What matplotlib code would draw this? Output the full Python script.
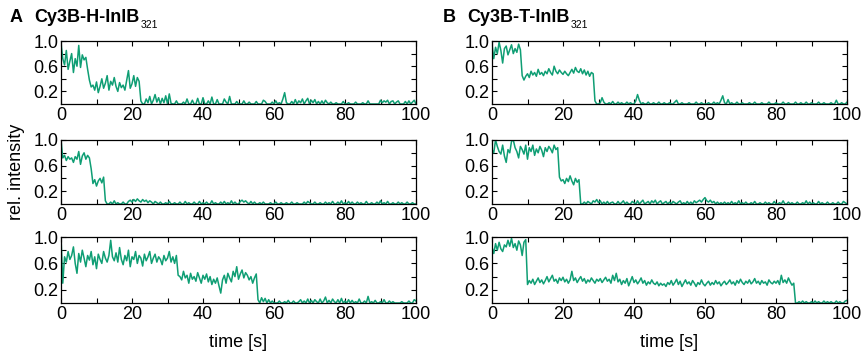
import numpy as np
import matplotlib
matplotlib.use("Agg")
import matplotlib.pyplot as plt

plt.rcParams['font.family'] = ['Liberation Sans', 'DejaVu Sans']

# time grid (s), 0.5 s sampling
time = np.arange(0, 100.5, 0.5)

panel_titles = ["Cy3B-H-InlB", "Cy3B-T-InlB"]
panel_letters = ["A", "B"]
subscript = "321"

trace_A1 = [0.97, 0.72, 0.62, 0.85, 0.55, 0.68, 0.80, 0.50, 0.72, 0.60, 0.93, 0.58, 0.78, 0.70, 0.74,
            0.55, 0.38, 0.27,
            0.30, 0.22, 0.35, 0.18, 0.28, 0.40, 0.25, 0.33, 0.45, 0.22, 0.36, 0.30, 0.42, 0.28, 0.20,
            0.34, 0.26, 0.30, 0.22, 0.38, 0.53, 0.25, 0.32, 0.45, 0.28, 0.42, 0.36,
            0.05, 0.00,
            0.00, 0.08, 0.02, 0.12, 0.00, 0.06, 0.15, 0.03, 0.10, 0.00,
            0.09, 0.02, 0.13, 0.00, 0.16, 0.01, 0.00, 0.00, 0.05, 0.00,
            0.00, 0.00, 0.03, 0.00, 0.08, 0.00, 0.00, 0.06, 0.00, 0.00,
            0.09, 0.00, 0.00, 0.10, 0.00, 0.00, 0.05, 0.00, 0.11, 0.00,
            0.00, 0.07, 0.00, 0.00, 0.00, 0.08, 0.03, 0.00, 0.12, 0.00,
            0.00, 0.00, 0.04, 0.00, 0.00, 0.00, 0.05, 0.00, 0.00, 0.03,
            0.00, 0.00, 0.00, 0.04, 0.00, 0.00, 0.00, 0.06, 0.04, 0.00,
            0.00, 0.00, 0.03, 0.00, 0.05, 0.00, 0.02, 0.00, 0.08, 0.18,
            0.02, 0.00, 0.00, 0.04, 0.00, 0.07, 0.00, 0.05, 0.02, 0.08,
            0.00, 0.05, 0.09, 0.00, 0.06, 0.02, 0.07, 0.00, 0.04, 0.00,
            0.05, 0.00, 0.06, 0.02, 0.00, 0.03, 0.00, 0.00, 0.02, 0.00,
            0.00, 0.00, 0.04, 0.00, 0.00, 0.02, 0.00, 0.00, 0.00, 0.03,
            0.00, 0.00, 0.00, 0.02, 0.00, 0.00, 0.05, 0.00, 0.00, 0.00,
            0.00, 0.00, 0.00, 0.06, 0.02, 0.05, 0.03, 0.06, 0.00, 0.04,
            0.05, 0.00, 0.03, 0.05, 0.00, 0.00, 0.00, 0.04, 0.00, 0.05,
            0.00, 0.03, 0.06, 0.00]

trace_A2 = [1.00, 0.72, 0.76, 0.68, 0.74, 0.70, 0.72, 0.65, 0.74, 0.70, 0.82, 0.62, 0.75, 0.80, 0.70, 0.76, 0.72,
            0.55, 0.32, 0.38, 0.28, 0.36, 0.40, 0.33, 0.42, 0.05, 0.00,
            0.00, 0.03, 0.00, 0.05, 0.00, 0.02, 0.00, 0.00, 0.03, 0.00,
            0.00, 0.04, 0.06, 0.03, 0.07, 0.04, 0.08, 0.05, 0.03, 0.07,
            0.04, 0.06, 0.02, 0.05, 0.03, 0.00, 0.04, 0.02, 0.00, 0.03,
            0.00, 0.00, 0.02, 0.00, 0.04, 0.00, 0.00, 0.02, 0.00, 0.00,
            0.03, 0.00, 0.00, 0.04, 0.00, 0.02, 0.00, 0.00, 0.03, 0.00,
            0.00, 0.04, 0.00, 0.02, 0.00, 0.03, 0.00, 0.00, 0.05, 0.00,
            0.02, 0.00, 0.00, 0.03, 0.00, 0.04, 0.00, 0.02, 0.00, 0.05,
            0.00, 0.03, 0.00, 0.00, 0.04, 0.06, 0.03, 0.05, 0.02, 0.00,
            0.04, 0.00, 0.03, 0.00, 0.00, 0.02, 0.00, 0.03, 0.00, 0.00,
            0.00, 0.02, 0.00, 0.00, 0.03, 0.00, 0.00, 0.02, 0.00, 0.00,
            0.02, 0.00, 0.00, 0.03, 0.00, 0.00, 0.02, 0.00, 0.00, 0.00,
            0.03, 0.00, 0.04, 0.02, 0.00, 0.00, 0.03, 0.00, 0.00, 0.02,
            0.00, 0.00, 0.03, 0.00, 0.02, 0.00, 0.04, 0.00, 0.00, 0.03,
            0.00, 0.05, 0.00, 0.02, 0.00, 0.04, 0.00, 0.03, 0.00, 0.00,
            0.03, 0.00, 0.02, 0.00, 0.00, 0.04, 0.00, 0.00, 0.02, 0.00,
            0.00, 0.03, 0.00, 0.05, 0.00, 0.02, 0.00, 0.04, 0.00, 0.00,
            0.02, 0.00, 0.00, 0.03, 0.00, 0.02, 0.00, 0.00, 0.03, 0.00,
            0.00, 0.02, 0.00, 0.00]

trace_A3 = [1.00, 0.30, 0.70, 0.62, 0.78, 0.66, 0.72, 0.85, 0.60, 0.45, 0.75,
            0.62, 0.80, 0.68, 0.55, 0.72, 0.65, 0.78, 0.58, 0.70, 0.52,
            0.74, 0.66, 0.60, 0.78, 0.68, 0.62, 0.72, 0.95, 0.70, 0.64,
            0.76, 0.62, 0.84, 0.66, 0.58, 0.72, 0.64, 0.80, 0.55, 0.70,
            0.66, 0.78, 0.60, 0.72, 0.68, 0.56, 0.74, 0.64, 0.70, 0.78,
            0.60, 0.68, 0.74, 0.62, 0.70, 0.66, 0.58, 0.72, 0.64, 0.68,
            0.78, 0.62, 0.70, 0.60, 0.72, 0.42,
            0.40, 0.35, 0.48, 0.38, 0.42, 0.30, 0.45, 0.36, 0.40, 0.33,
            0.46, 0.38, 0.30, 0.42, 0.36, 0.44, 0.32, 0.40, 0.28, 0.36,
            0.30, 0.38, 0.26, 0.15, 0.35, 0.42, 0.30, 0.45, 0.38, 0.32,
            0.48, 0.40, 0.55, 0.36, 0.44, 0.50, 0.38, 0.46, 0.42, 0.35,
            0.40, 0.30, 0.38, 0.44, 0.05,
            0.00, 0.08, 0.02, 0.07, 0.00, 0.05, 0.00, 0.03, 0.00,
            0.00, 0.00, 0.03, 0.00, 0.00, 0.02, 0.00, 0.04, 0.00, 0.00,
            0.03, 0.00, 0.00, 0.02, 0.05, 0.00, 0.03, 0.00, 0.06, 0.00,
            0.04, 0.00, 0.05, 0.02, 0.00, 0.06, 0.00, 0.03, 0.09, 0.00,
            0.04, 0.00, 0.06, 0.02, 0.00, 0.05, 0.00, 0.07, 0.00, 0.03,
            0.00, 0.05, 0.00, 0.04, 0.00, 0.02, 0.00, 0.06, 0.00, 0.00,
            0.03, 0.00, 0.10, 0.00, 0.02, 0.00, 0.04, 0.00, 0.00, 0.02,
            0.00, 0.05, 0.00, 0.00, 0.03, 0.00, 0.02, 0.00, 0.00, 0.00,
            0.00, 0.02, 0.00, 0.00, 0.00, 0.03, 0.00, 0.00, 0.05, 0.03]

trace_B1 = [0.95, 0.72, 0.90, 0.80, 0.98, 0.85, 0.65, 0.88, 0.92, 0.78, 0.86, 0.94, 0.80, 0.88, 0.82, 0.95, 0.86,
            0.45, 0.38, 0.44,
            0.48, 0.42, 0.52, 0.46, 0.50, 0.44, 0.55, 0.47, 0.50, 0.45, 0.52,
            0.48, 0.56, 0.50, 0.46, 0.60, 0.52, 0.48, 0.54, 0.50, 0.47,
            0.52, 0.48, 0.45, 0.50, 0.55, 0.49, 0.58, 0.52, 0.50, 0.56,
            0.48, 0.54, 0.46, 0.52, 0.44, 0.50, 0.48,
            0.05, 0.00,
            0.00, 0.02, 0.10, 0.03, 0.00, 0.00, 0.02, 0.00, 0.04, 0.00,
            0.00, 0.03, 0.00, 0.02, 0.00, 0.00, 0.03, 0.00, 0.02, 0.00,
            0.00, 0.05, 0.15, 0.06, 0.00, 0.02, 0.00, 0.00, 0.03, 0.00,
            0.00, 0.02, 0.00, 0.00, 0.03, 0.00, 0.00, 0.02, 0.00, 0.00,
            0.02, 0.00, 0.00, 0.03, 0.06, 0.00, 0.00, 0.02, 0.00, 0.00,
            0.00, 0.02, 0.00, 0.00, 0.00, 0.03, 0.00, 0.00, 0.02, 0.00,
            0.00, 0.00, 0.02, 0.00, 0.00, 0.03, 0.00, 0.02, 0.00, 0.06,
            0.13, 0.02, 0.00, 0.07, 0.00, 0.02, 0.00, 0.00, 0.03, 0.00,
            0.00, 0.02, 0.00, 0.00, 0.00, 0.02, 0.00, 0.00, 0.03, 0.00,
            0.00, 0.00, 0.02, 0.00, 0.00, 0.00, 0.03, 0.00, 0.00, 0.00,
            0.02, 0.00, 0.00, 0.00, 0.03, 0.00, 0.00, 0.02, 0.00, 0.00,
            0.00, 0.03, 0.00, 0.00, 0.02, 0.00, 0.00, 0.03, 0.00, 0.00,
            0.02, 0.00, 0.00, 0.00, 0.03, 0.00, 0.00, 0.02, 0.00, 0.00,
            0.00, 0.02, 0.00, 0.00, 0.06, 0.00, 0.00, 0.02, 0.00, 0.00,
            0.03]

trace_B2 = [0.85, 0.80, 1.00, 0.90, 0.82, 0.78, 0.92, 0.75, 0.65, 0.85, 0.80,
            0.98, 1.00, 0.88, 0.82, 0.72, 0.90, 0.85, 0.78, 0.92, 0.70,
            0.88, 0.82, 0.92, 0.76, 0.86, 0.80, 0.90, 0.84, 0.74, 0.88,
            0.82, 0.90, 0.86, 0.80, 0.92, 0.85, 0.88,
            0.42, 0.36,
            0.38, 0.32, 0.40, 0.35, 0.44, 0.36, 0.30, 0.40, 0.34, 0.38,
            0.00,
            0.00, 0.03, 0.00, 0.04, 0.02, 0.00, 0.05, 0.03, 0.07, 0.02,
            0.05, 0.00, 0.03, 0.00, 0.04, 0.00, 0.02, 0.03, 0.00, 0.00,
            0.04, 0.00, 0.02, 0.05, 0.00, 0.03, 0.00, 0.00, 0.04, 0.02,
            0.00, 0.05, 0.00, 0.03, 0.06, 0.00, 0.02, 0.04, 0.00, 0.05,
            0.02, 0.06, 0.00, 0.03, 0.05, 0.00, 0.02, 0.04, 0.00, 0.03,
            0.00, 0.04, 0.02, 0.00, 0.03, 0.05, 0.00, 0.02, 0.00, 0.04,
            0.00, 0.03, 0.00, 0.05, 0.02, 0.04, 0.06, 0.03, 0.07, 0.10,
            0.05, 0.03, 0.06, 0.02, 0.04, 0.00, 0.03, 0.00, 0.02, 0.00,
            0.03, 0.00, 0.02, 0.00, 0.04, 0.00, 0.02, 0.00, 0.05, 0.00,
            0.02, 0.00, 0.03, 0.00, 0.00, 0.02, 0.00, 0.04, 0.00, 0.00,
            0.02, 0.00, 0.00, 0.03, 0.00, 0.02, 0.00, 0.00, 0.04, 0.00,
            0.00, 0.02, 0.00, 0.05, 0.00, 0.00, 0.03, 0.00, 0.02, 0.00,
            0.00, 0.03, 0.00, 0.00, 0.02, 0.00, 0.05, 0.00, 0.03, 0.00,
            0.02, 0.00, 0.00, 0.04, 0.00, 0.02, 0.00, 0.00, 0.03, 0.00,
            0.00, 0.02, 0.00, 0.00, 0.03, 0.00, 0.00, 0.04, 0.02, 0.00]

trace_B3 = [0.85, 0.75, 0.90, 0.80, 0.92, 0.82, 0.78, 0.88, 0.85, 0.95,
            0.86, 0.98, 0.84, 0.90, 0.80, 0.94, 0.88, 0.72, 0.92, 0.96,
            0.28,
            0.34, 0.30, 0.36, 0.28, 0.33, 0.38, 0.31, 0.35, 0.29, 0.34,
            0.40, 0.32, 0.37, 0.42, 0.33, 0.36, 0.30, 0.38, 0.34, 0.39,
            0.32, 0.36, 0.30, 0.35, 0.48, 0.34, 0.38, 0.31, 0.36, 0.40,
            0.33, 0.37, 0.30, 0.35, 0.32, 0.38, 0.34, 0.30, 0.36, 0.33,
            0.37, 0.31, 0.35, 0.39, 0.33, 0.36, 0.30, 0.42, 0.34, 0.45,
            0.32, 0.36, 0.28, 0.34, 0.30, 0.37, 0.26, 0.33, 0.40, 0.31,
            0.35, 0.29, 0.33, 0.38, 0.30, 0.34, 0.27, 0.32, 0.29, 0.35,
            0.30, 0.28, 0.32, 0.26, 0.30, 0.27, 0.29, 0.25, 0.31, 0.28,
            0.34, 0.27, 0.31, 0.36, 0.28, 0.33, 0.25, 0.30, 0.35, 0.29,
            0.32, 0.27, 0.34, 0.30, 0.25, 0.31, 0.28, 0.35, 0.29, 0.26,
            0.30, 0.33, 0.27, 0.31, 0.28, 0.34, 0.29, 0.32, 0.26, 0.30,
            0.33, 0.28, 0.31, 0.35, 0.29, 0.32, 0.27, 0.34, 0.30, 0.36,
            0.31, 0.28, 0.33, 0.30, 0.35, 0.29, 0.32, 0.37, 0.30, 0.33,
            0.28, 0.34, 0.30, 0.32, 0.27, 0.35, 0.31, 0.29, 0.33, 0.30,
            0.34, 0.28, 0.42, 0.31, 0.35, 0.30, 0.38, 0.32, 0.27, 0.30,
            0.00, 0.00, 0.02, 0.00, 0.03, 0.00, 0.02, 0.00, 0.00, 0.02,
            0.00, 0.03, 0.00, 0.02, 0.00, 0.00, 0.03, 0.00, 0.02, 0.00,
            0.02, 0.00, 0.00, 0.03, 0.00, 0.02, 0.00, 0.00, 0.03, 0.04]

traces = [[trace_A1, trace_A2, trace_A3], [trace_B1, trace_B2, trace_B3]]

xticks = list(range(0, 101, 10))
xticklabels = [str(v) if v % 20 == 0 else "" for v in xticks]
yticks = [0.2, 0.4, 0.6, 0.8, 1.0]
yticklabels = ["0.2", "", "0.6", "", "1.0"]

color = "#0f9e74"
W, H = 864, 358
fig = plt.figure(figsize=(W / 100, H / 100), dpi=100)

col_left = [61, 492]
ax_w = 355
rows = [(41, 104), (140, 204), (237, 303)]

for c in range(2):
    for r in range(3):
        top, bot = rows[r]
        ax = fig.add_axes([col_left[c] / W, 1 - bot / H, ax_w / W, (bot - top) / H])
        ax.plot(time, traces[c][r], color=color, lw=1.1)
        ax.set_xlim(0, 100)
        ax.set_ylim(0.0, 1.0)
        ax.set_xticks(xticks)
        ax.set_xticklabels(xticklabels)
        ax.set_yticks(yticks)
        ax.set_yticklabels(yticklabels)
        ax.tick_params(direction='in', top=True, right=True, length=3.5, width=0.8,
                       labelsize=13, pad=2)
        for s in ax.spines.values():
            s.set_linewidth(0.9)
        if r == 2:
            ax.set_xlabel("time [s]", fontsize=13, labelpad=8)
        if c == 0 and r == 1:
            ax.set_ylabel("rel. intensity", fontsize=13, labelpad=6)

renderer = fig.canvas.get_renderer()
for c in range(2):
    x0 = [10, 443][c]
    fig.text(x0 / W, 1 - 18 / H, panel_letters[c], fontsize=13, fontweight='bold',
             va='center', ha='left')
    t = fig.text((x0 + 24) / W, 1 - 18 / H, panel_titles[c],
                 fontsize=13, fontweight='bold', va='center', ha='left')
    bb = t.get_window_extent(renderer=renderer)
    fig.text((bb.x1 + 1) / W, (bb.y0 + 1) / H, subscript, fontsize=7.5,
             va='center', ha='left')

fig.savefig("out.png", dpi=100)
